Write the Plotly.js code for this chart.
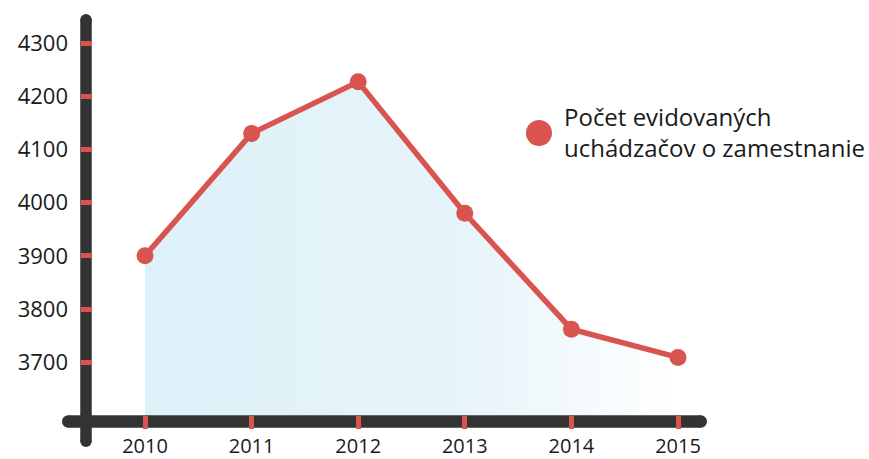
<!DOCTYPE html>
<html>
<head>
<meta charset="utf-8">
<script src="https://cdn.plot.ly/plotly-3.0.1.min.js"></script>
<style>html,body{margin:0;padding:0;background:#fff;}#chart{width:869px;height:459px;}</style>
</head>
<body>
<div id="chart"></div>
<script>
// Data
var years = [2010, 2011, 2012, 2013, 2014, 2015];
var values = [3900, 4130, 4227, 3980, 3762, 3709];
var yTicks = [3700, 3800, 3900, 4000, 4100, 4200, 4300];
var legendLines = ['Počet evidovaných', 'uchádzačov o zamestnanie'];
var seriesName = legendLines.join(' ');

var W = 869, H = 459;
var L = 81, R = 707, T = 15, B = 415;
var pw = R - L, ph = B - T;
function px(x) { return (x - L) / pw; }
function py(y) { return (B - y) / ph; }

var barColor = '#333333';
var red = '#d9534f';

function roundBar(x0, y0, x1, y1, w) {
  var r = w / 2;
  var out = [];
  out.push({type: 'line', xref: 'paper', yref: 'paper', layer: 'below',
    x0: px(x0), y0: py(y0), x1: px(x1), y1: py(y1),
    line: {color: barColor, width: w}});
  [[x0, y0], [x1, y1]].forEach(function (p) {
    out.push({type: 'circle', xref: 'paper', yref: 'paper', layer: 'below',
      x0: px(p[0] - r), x1: px(p[0] + r), y0: py(p[1] + r), y1: py(p[1] - r),
      fillcolor: barColor, line: {width: 0}});
  });
  return out;
}

var shapes = [];
shapes = shapes.concat(roundBar(86, 19.75, 86, 441.25, 11.5));
shapes = shapes.concat(roundBar(68.25, 421.5, 700.75, 421.5, 12.5));
// legend dot
shapes.push({type: 'circle', xref: 'paper', yref: 'paper', layer: 'below',
  x0: px(539 - 13), x1: px(539 + 13), y0: py(133 + 13), y1: py(133 - 13),
  fillcolor: red, line: {width: 0}});

var trace = {
  x: years, y: values, type: 'scatter', mode: 'lines+markers',
  name: seriesName,
  line: {color: red, width: 5.5},
  marker: {color: red, size: 17},
  fill: 'tozeroy',
  fillgradient: {type: 'horizontal', colorscale: [[0, '#dcf1f8'], [0.6, '#e7f4f9'], [1, '#ffffff']]},
  hoverinfo: 'x+y'
};

var layout = {
  width: W, height: H,
  margin: {l: L, r: W - R, t: T, b: H - B, pad: 0},
  paper_bgcolor: '#ffffff', plot_bgcolor: 'rgba(0,0,0,0)',
  showlegend: false,
  font: {family: 'Open Sans, sans-serif', color: '#1a1a1a'},
  xaxis: {
    range: [2010 - (145 - L) / 106.6, 2015 + (R - 678) / 106.6],
    tickvals: years, ticktext: years.map(String),
    showgrid: false, zeroline: false, showline: false,
    ticks: 'outside', ticklen: 13, tickwidth: 5, tickcolor: red,
    ticklabelstandoff: 0,
    tickfont: {size: 20, color: '#1a1a1a'}
  },
  yaxis: {
    range: [4300 - (B - 43) / 0.532, 4300 + (43 - T) / 0.532],
    tickvals: yTicks, ticktext: yTicks.map(String),
    showgrid: false, zeroline: false, showline: false,
    ticks: 'inside', ticklen: 11, tickwidth: 5, tickcolor: red,
    ticklabelstandoff: 12,
    tickfont: {size: 22, color: '#1a1a1a'}
  },
  shapes: shapes,
  annotations: [{
    xref: 'paper', yref: 'paper', x: px(562), y: py(132),
    xanchor: 'left', yanchor: 'middle', align: 'left',
    text: legendLines.join('<br>'), showarrow: false,
    font: {size: 24, color: '#1a1a1a', family: 'Open Sans, sans-serif'}
  }]
};

Plotly.newPlot('chart', [trace], layout, {displayModeBar: false, staticPlot: true});
</script>
</body>
</html>
